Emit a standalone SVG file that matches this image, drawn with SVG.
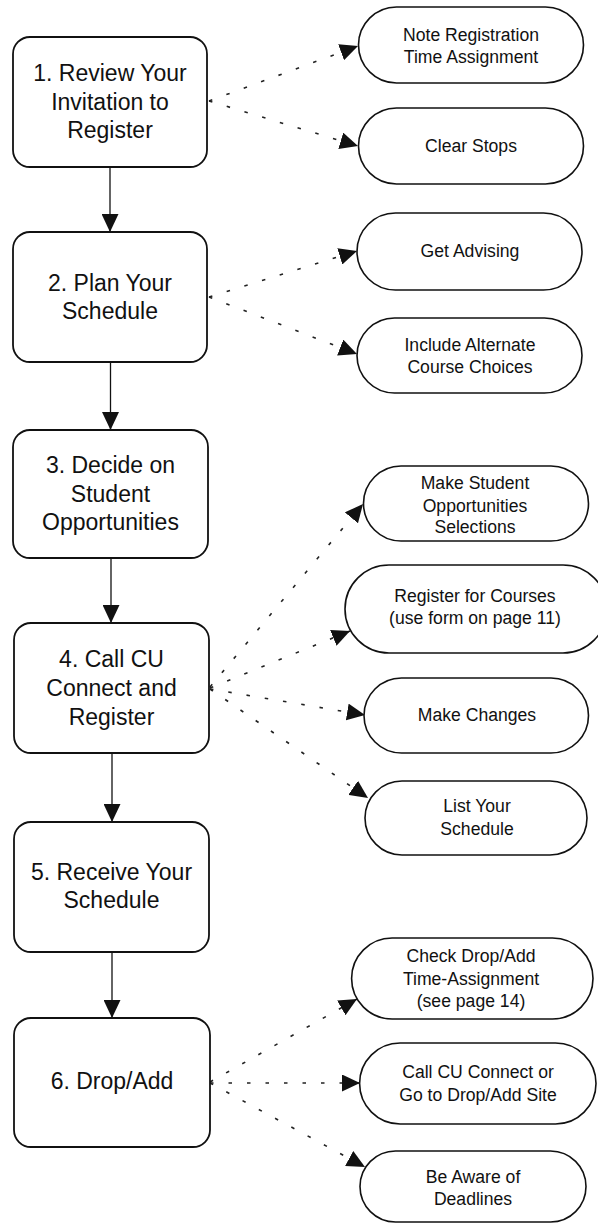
<svg xmlns="http://www.w3.org/2000/svg" width="598" height="1223" viewBox="0 0 598 1223">
<style>
.step rect{fill:#fff;stroke:#111;stroke-width:1.8}
.opt rect{fill:#fff;stroke:#111;stroke-width:1.6}
.step text{font-family:"Liberation Sans",Arial,Helvetica,sans-serif;font-size:23px;fill:#111;text-anchor:middle}
.opt text{font-family:"Liberation Sans",Arial,Helvetica,sans-serif;font-size:17.6px;fill:#111;text-anchor:middle}
.flow{stroke:#111;stroke-width:1.3;fill:none;marker-end:url(#ah)}
.dot{stroke:#222;stroke-width:1.6;fill:none;stroke-dasharray:3.5 15;marker-end:url(#ah)}
</style>
<defs>
<marker id="ah" markerUnits="userSpaceOnUse" viewBox="0 0 18 17" refX="18" refY="8.5" markerWidth="18" markerHeight="17" orient="auto">
<path d="M0,0 L18,8.5 L0,17 z" fill="#111"/>
</marker>
</defs>
<rect width="598" height="1223" fill="#fff"/>

<g id="connectors">
<line class="flow" x1="110" y1="167" x2="110" y2="232"/>
<line class="flow" x1="110.5" y1="362" x2="110.5" y2="430"/>
<line class="flow" x1="111" y1="558" x2="111" y2="623"/>
<line class="flow" x1="112" y1="753" x2="112" y2="822"/>
<line class="flow" x1="112" y1="952" x2="112" y2="1018"/>

<line class="dot" x1="209" y1="101" x2="358" y2="46"/>
<line class="dot" x1="209" y1="101" x2="358" y2="146"/>
<line class="dot" x1="209" y1="297" x2="357" y2="251"/>
<line class="dot" x1="209" y1="297" x2="357" y2="354"/>
<line class="dot" x1="210" y1="687" x2="363" y2="504"/>
<line class="dot" x1="210" y1="688" x2="350" y2="631"/>
<line class="dot" x1="210" y1="689" x2="365" y2="715"/>
<line class="dot" x1="210" y1="689" x2="368" y2="798"/>
<line class="dot" x1="210" y1="1082" x2="357" y2="999"/>
<line class="dot" x1="210" y1="1083" x2="360" y2="1083"/>
<line class="dot" x1="210" y1="1083" x2="365" y2="1167"/>
</g>

<g id="step1" class="step">
<rect x="13" y="37" width="194" height="130" rx="17"/>
<text><tspan x="110" y="81">1. Review Your</tspan><tspan x="110" y="110">Invitation to</tspan><tspan x="110" y="138">Register</tspan></text>
</g>
<g id="step2" class="step">
<rect x="13" y="232" width="194" height="130" rx="17"/>
<text><tspan x="110" y="291">2. Plan Your</tspan><tspan x="110" y="319">Schedule</tspan></text>
</g>
<g id="step3" class="step">
<rect x="13" y="430" width="195" height="128" rx="17"/>
<text><tspan x="110.5" y="473">3. Decide on</tspan><tspan x="110.5" y="502">Student</tspan><tspan x="110.5" y="530">Opportunities</tspan></text>
</g>
<g id="step4" class="step">
<rect x="14" y="623" width="195" height="130" rx="17"/>
<text><tspan x="111.5" y="667">4. Call CU</tspan><tspan x="111.5" y="696">Connect and</tspan><tspan x="111.5" y="725">Register</tspan></text>
</g>
<g id="step5" class="step">
<rect x="14" y="822" width="195" height="130" rx="17"/>
<text><tspan x="111.5" y="880">5. Receive Your</tspan><tspan x="111.5" y="908">Schedule</tspan></text>
</g>
<g id="step6" class="step">
<rect x="14" y="1018" width="196" height="129" rx="17"/>
<text><tspan x="112" y="1089">6. Drop/Add</tspan></text>
</g>

<g id="opt-note-time" class="opt">
<rect x="358.5" y="7" width="225" height="76" rx="38"/>
<text><tspan x="471" y="41">Note Registration</tspan><tspan x="471" y="63">Time Assignment</tspan></text>
</g>
<g id="opt-clear-stops" class="opt">
<rect x="358.5" y="108" width="225" height="76" rx="38"/>
<text><tspan x="471" y="152">Clear Stops</tspan></text>
</g>
<g id="opt-advising" class="opt">
<rect x="357" y="213" width="225" height="77" rx="38.5"/>
<text><tspan x="470" y="257">Get Advising</tspan></text>
</g>
<g id="opt-alternate" class="opt">
<rect x="357" y="318" width="225" height="75" rx="37.5"/>
<text><tspan x="470" y="351">Include Alternate</tspan><tspan x="470" y="373">Course Choices</tspan></text>
</g>
<g id="opt-student-opps" class="opt">
<rect x="363.5" y="466" width="225" height="75" rx="37.5"/>
<text><tspan x="475" y="489">Make Student</tspan><tspan x="475" y="512">Opportunities</tspan><tspan x="475" y="533">Selections</tspan></text>
</g>
<g id="opt-register-courses" class="opt">
<rect x="345" y="565" width="262" height="88" rx="44"/>
<text><tspan x="475" y="602">Register for Courses</tspan><tspan x="475" y="624">(use form on page 11)</tspan></text>
</g>
<g id="opt-make-changes" class="opt">
<rect x="364" y="678" width="224.5" height="75" rx="37.5"/>
<text><tspan x="477" y="721">Make Changes</tspan></text>
</g>
<g id="opt-list-schedule" class="opt">
<rect x="365" y="781" width="222" height="74" rx="37"/>
<text><tspan x="477" y="812">List Your</tspan><tspan x="477" y="835">Schedule</tspan></text>
</g>
<g id="opt-check-dropadd" class="opt">
<rect x="351.6" y="938" width="241.4" height="81" rx="40.5"/>
<text><tspan x="471" y="962">Check Drop/Add</tspan><tspan x="471" y="985">Time-Assignment</tspan><tspan x="471" y="1007">(see page 14)</tspan></text>
</g>
<g id="opt-call-cu" class="opt">
<rect x="359.6" y="1043" width="236.4" height="81" rx="40.5"/>
<text><tspan x="478" y="1078">Call CU Connect or</tspan><tspan x="478" y="1101">Go to Drop/Add Site</tspan></text>
</g>
<g id="opt-deadlines" class="opt">
<rect x="360" y="1151" width="226" height="71" rx="35.5"/>
<text><tspan x="473" y="1183">Be Aware of</tspan><tspan x="473" y="1205">Deadlines</tspan></text>
</g>
</svg>
